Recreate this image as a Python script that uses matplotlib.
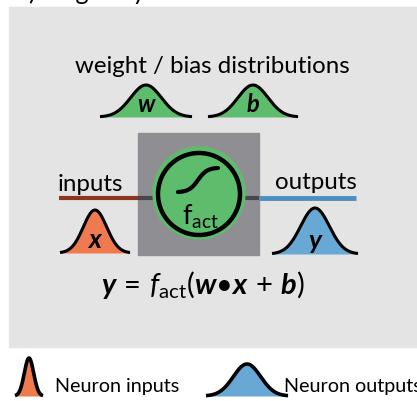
import numpy as np
import matplotlib
matplotlib.use("Agg")
import matplotlib.pyplot as plt
from matplotlib.patches import Rectangle, Circle

plt.rcParams["font.family"] = ["Lato", "DejaVu Sans"]
plt.rcParams["mathtext.fontset"] = "custom"
plt.rcParams["mathtext.rm"] = "Lato"
plt.rcParams["mathtext.it"] = "Lato:italic"
plt.rcParams["mathtext.bf"] = "Lato:bold"
plt.rcParams["mathtext.bfit"] = "Lato:bold:italic"

# schematic bumps: label, centre x, half width, baseline y, peak height, colour
bump_labels = ["w", "b", "x", "y"]
bump_cx = [146, 253, 95, 315]
bump_half = [46, 45, 35, 43]
bump_base = [118, 118, 254, 255]
bump_height = [32, 32, 43, 46]
bump_colors = ["#5dbd6c", "#5dbd6c", "#f07a50", "#67a9d4"]
bump_fs = [17, 17, 19, 19]

legend_labels = ["Neuron inputs", "Neuron outputs"]
legend_cx = [29, 247]
legend_half = [14, 41]
legend_height = [38, 32]
legend_colors = ["#f07a50", "#67a9d4"]

W, H = 417, 402
fig = plt.figure(figsize=(W / 100, H / 100), dpi=100)
ax = fig.add_axes([0, 0, 1, 1])
ax.set_xlim(0, W)
ax.set_ylim(H, 0)
ax.axis("off")


def bump(cx, half, base, height, color, lw=2.2):
    xs = np.linspace(cx - half, cx + half, 200)
    sig = half / 3.0
    ys = base - height * np.exp(-0.5 * ((xs - cx) / sig) ** 2)
    ax.fill_between(xs, ys, base, color=color, zorder=3, lw=0)
    ax.plot(xs, ys, color="black", lw=lw, zorder=4, solid_capstyle="butt")


# cut-off heading at the top
ax.text(15, 0, "b) Single layer", fontsize=18, va="baseline", ha="left")

# grey panel
ax.add_patch(Rectangle((9, 8), W, 340, color="#e4e4e4", zorder=0))

ax.text(212, 73, "weight / bias distributions", fontsize=17.3, ha="center",
        va="baseline", zorder=5)

# neuron box
ax.add_patch(Rectangle((138, 134), 121, 122, color="#8f8f93", zorder=1))

# connection line
ax.plot([59, 138], [199, 199], color="#8b3522", lw=3, zorder=2,
        solid_capstyle="butt")
ax.plot([138, 259], [199, 199], color="#46464c", lw=3, zorder=2,
        solid_capstyle="butt")
ax.plot([259, 356], [199, 199], color="#4f8fbf", lw=3.5, zorder=2,
        solid_capstyle="butt")

ax.add_patch(Circle((199, 194), 46, color="#5dbd6c", zorder=3))
ax.add_patch(Circle((199, 195), 41, facecolor="none", edgecolor="black",
                    lw=3.2, zorder=4))
sx = np.linspace(-1, 1, 100)
ax.plot(178 + (sx + 1) * 20, 181 - 12 * np.tanh(2.2 * sx) / np.tanh(2.2),
        color="black", lw=3, zorder=5, solid_capstyle="round")
ax.text(200, 225, r"$\mathrm{f}_{\mathrm{act}}$", fontsize=19.5, ha="center",
        va="baseline", zorder=5)

ax.text(58, 191, "inputs", fontsize=17.4, ha="left", va="baseline", zorder=5)
ax.text(357, 189, "outputs", fontsize=17.4, ha="right", va="baseline", zorder=5)

for lab, cx, hw, base, hh, col, fs in zip(bump_labels, bump_cx, bump_half,
                                          bump_base, bump_height, bump_colors,
                                          bump_fs):
    bump(cx, hw, base, hh, col)
    ax.text(cx, base - 6, lab, fontsize=fs, fontweight="bold",
            style="italic", ha="center", va="baseline", zorder=5)

equation = (r"$\mathbfit{y}\,=\,\mathit{f}_{\mathrm{act}}\mathrm{(}"
            r"\mathbfit{w}\mathrm{" + "\u2022" + r"}\mathbfit{x}\,+\,"
            r"\mathbfit{b}\mathrm{)}$")
ax.text(203, 294, equation, fontsize=21, ha="center", va="baseline", zorder=5)

# legend
text_x = [55, 284]
for lab, cx, hw, hh, col, tx in zip(legend_labels, legend_cx, legend_half,
                                    legend_height, legend_colors, text_x):
    bump(cx, hw, 397, hh, col, lw=2.6)
    ax.text(tx, 392, lab, fontsize=14.2, ha="left", va="baseline")

fig.savefig("out.png", dpi=100)
